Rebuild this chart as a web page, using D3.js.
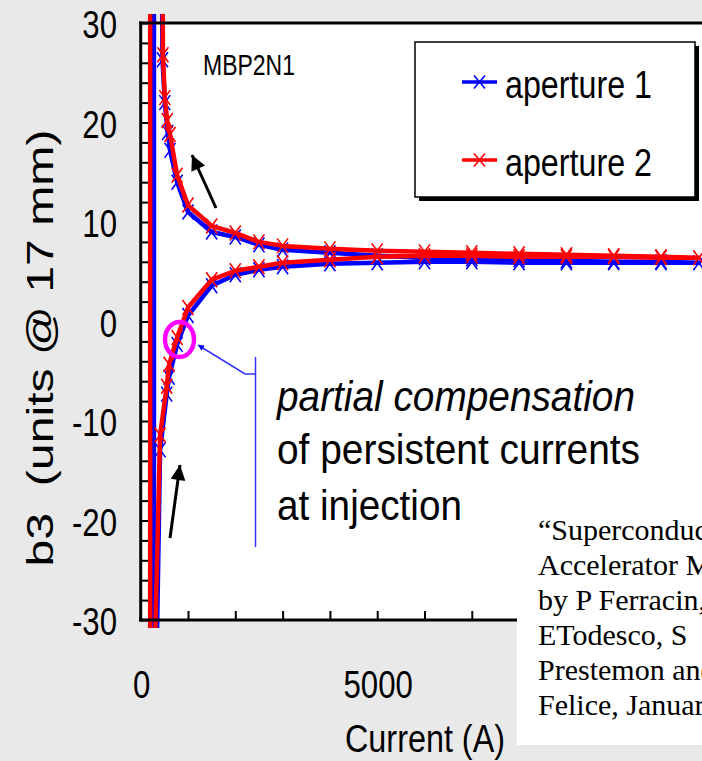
<!DOCTYPE html>
<html>
<head>
<meta charset="utf-8">
<script src="https://cdn.jsdelivr.net/npm/d3@7"></script>
<style>
  html, body { margin: 0; padding: 0; background: #e9e9e9; }
  svg { display: block; }
  text { font-family: "Liberation Sans", Arial, sans-serif; fill: #000; }
</style>
</head>
<body>
<svg id="chart" width="702" height="761"></svg>
<script>
// b3 harmonic vs. current, MBP2N1, both apertures.
// Each series is one ordered measurement cycle: [current (A), b3 (units @ 17 mm)].
const aperture1 = [
  [280, 60], [280, -60], [340, -33], [410, -12.9], [550, -7.3], [600, -5.6], [770, -2.3],
  [1000, 0.6], [1500, 3.6], [2000, 4.7], [2500, 5.2], [3000, 5.5], [4000, 5.8], [5000, 5.9],
  [6000, 6.0], [7000, 6.0], [8000, 5.9], [9000, 5.9], [10000, 5.9], [11000, 5.9], [11800, 5.9],
  [11000, 6.0], [10000, 6.0], [9000, 6.1], [8000, 6.2], [7000, 6.3], [6000, 6.4], [5000, 6.6],
  [4000, 6.9], [3000, 7.2], [2500, 7.7], [2000, 8.5], [1500, 9.0], [1000, 11.0], [770, 14.0],
  [620, 17.2], [570, 19.0], [510, 22.0], [460, 26.3], [450, 34]
];
const aperture2 = [
  [200, 60], [200, -60], [300, -33], [410, -11.4], [550, -6.5], [600, -4.3], [770, -1.6],
  [1000, 1.4], [1500, 4.2], [2000, 5.1], [2500, 5.5], [3000, 5.9], [4000, 6.2], [5000, 6.5],
  [6000, 6.6], [7000, 6.6], [8000, 6.5], [9000, 6.5], [10000, 6.5], [11000, 6.4], [11800, 6.4],
  [11000, 6.5], [10000, 6.6], [9000, 6.7], [8000, 6.8], [7000, 6.9], [6000, 7.0], [5000, 7.1],
  [4000, 7.3], [3000, 7.6], [2500, 8.0], [2000, 8.9], [1500, 9.6], [1000, 11.7], [770, 14.7],
  [620, 18.8], [560, 20.2], [510, 22.5], [470, 26.8], [465, 34]
];
const seriesNames = ["aperture 1", "aperture 2"];
const seriesColors = ["#0000ff", "#ff0000"];
const yLabelTicks = [-30, -20, -10, 0, 10, 20, 30];
const xLabelTicks = [0, 5000];
const magnetName = "MBP2N1";
const noteLines = ["partial compensation", "of persistent currents", "at injection"];
const citationLines = [
  "\u201CSuperconducting",
  "Accelerator Magnets\u201D",
  "by P Ferracin,",
  "ETodesco, S",
  "Prestemon and H",
  "Felice, January 2012"
];

const svg = d3.select("#chart");

const x = d3.scaleLinear().domain([0, 12000]).range([140.7, 708.3]);
const y = d3.scaleLinear().domain([-30, 30]).range([620, 23]);

// squeeze a text element to a given width
function fit(sel, w) {
  sel.attr("textLength", w).attr("lengthAdjust", "spacingAndGlyphs");
}

// plot area
svg.append("rect")
  .attr("x", x(0)).attr("y", y(30))
  .attr("width", 702 - x(0)).attr("height", y(-30) - y(30))
  .attr("fill", "#fff");

// clip for data (lines run slightly past the frame)
svg.append("clipPath").attr("id", "clip")
  .append("rect").attr("x", x(0) + 1).attr("y", 14).attr("width", 600).attr("height", 614);

// inward frame ticks
const gy = svg.append("g").attr("transform", `translate(${x(0)},0)`)
  .call(d3.axisRight(y).tickValues(d3.range(-30, 31, 2)).tickSize(8).tickFormat(""));
gy.select(".domain").remove();
gy.selectAll("line").attr("stroke", "#000").attr("stroke-width", 2);

const gx = svg.append("g").attr("transform", `translate(0,${y(-30)})`)
  .call(d3.axisTop(x).tickValues(d3.range(1000, 12001, 1000)).tickSize(9).tickFormat(""));
gx.select(".domain").remove();
gx.selectAll("line").attr("stroke", "#000").attr("stroke-width", 2);

// series: thick line with x markers
const line = d3.line().x(d => x(d[0])).y(d => y(d[1]));
const dataG = svg.append("g").attr("clip-path", "url(#clip)");
[aperture1, aperture2].forEach((data, i) => {
  dataG.append("path").datum(data)
    .attr("d", line).attr("fill", "none")
    .attr("stroke", seriesColors[i]).attr("stroke-width", 4.5)
    .attr("stroke-linejoin", "round");
  dataG.append("g").selectAll("path").data(data).join("path")
    .attr("d", d => {
      const cx = x(d[0]), cy = y(d[1]), a = 5.5, b = 7.5;
      return `M${cx - a},${cy - b}L${cx + a},${cy + b}M${cx - a},${cy + b}L${cx + a},${cy - b}`;
    })
    .attr("stroke", seriesColors[i]).attr("stroke-width", 1.6).attr("fill", "none");
});

// frame lines
svg.append("line").attr("x1", x(0) - 1.5).attr("x2", 702).attr("y1", y(30)).attr("y2", y(30))
  .attr("stroke", "#000").attr("stroke-width", 3);
svg.append("line").attr("x1", x(0)).attr("x2", x(0)).attr("y1", y(30) - 1.5).attr("y2", y(-30) + 1.5)
  .attr("stroke", "#000").attr("stroke-width", 3);
svg.append("line").attr("x1", x(0) - 1.5).attr("x2", 702).attr("y1", y(-30)).attr("y2", y(-30))
  .attr("stroke", "#000").attr("stroke-width", 3);

// y tick labels
svg.append("g").selectAll("text").data(yLabelTicks).join("text")
  .attr("x", 117).attr("y", d => y(d) + 15)
  .attr("text-anchor", "end").attr("font-size", 39)
  .text(d => d)
  .each(function () { fit(d3.select(this), this.getComputedTextLength() * 0.8); });

// x tick labels
svg.append("g").selectAll("text").data(xLabelTicks).join("text")
  .attr("x", d => x(d) + 1).attr("y", 698)
  .attr("text-anchor", "middle").attr("font-size", 39)
  .text(d => d)
  .each(function () { fit(d3.select(this), this.getComputedTextLength() * 0.8); });

// axis titles
const yt = svg.append("text")
  .attr("transform", "translate(53,348) rotate(-90)")
  .attr("text-anchor", "middle").attr("font-size", 36)
  .attr("xml:space", "preserve")
  .text("b3  (units @ 17 mm)");
fit(yt, 437);

const xt = svg.append("text")
  .attr("x", 425).attr("y", 752).attr("text-anchor", "middle").attr("font-size", 38)
  .text("Current (A)");
fit(xt, 160);

// magnet name
fit(svg.append("text").attr("x", 203).attr("y", 75).attr("font-size", 29).text(magnetName), 92);

// legend with drop shadow
svg.append("rect").attr("x", 419).attr("y", 46).attr("width", 280).attr("height", 155).attr("fill", "#000");
svg.append("rect").attr("x", 415).attr("y", 42).attr("width", 280).attr("height", 155)
  .attr("fill", "#fff").attr("stroke", "#000").attr("stroke-width", 1.5);
seriesNames.forEach((name, i) => {
  const ly = 82 + i * 78;
  svg.append("line").attr("x1", 462).attr("x2", 497).attr("y1", ly).attr("y2", ly)
    .attr("stroke", seriesColors[i]).attr("stroke-width", 3.5);
  svg.append("path")
    .attr("d", `M474,${ly - 6.5}L485,${ly + 6.5}M474,${ly + 6.5}L485,${ly - 6.5}`)
    .attr("stroke", seriesColors[i]).attr("stroke-width", 1.6);
  fit(svg.append("text").attr("x", 505).attr("y", ly + 16).attr("font-size", 38).text(name), 147);
});

// arrows showing ramp direction
const defs = svg.append("defs");
defs.append("marker").attr("id", "headBlack").attr("viewBox", "0 0 10 10")
  .attr("refX", 10).attr("refY", 5).attr("markerWidth", 8).attr("markerHeight", 5)
  .attr("orient", "auto").attr("markerUnits", "strokeWidth")
  .append("path").attr("d", "M0,0L10,5L0,10Z").attr("fill", "#000");
defs.append("marker").attr("id", "headBlue").attr("viewBox", "0 0 10 10")
  .attr("refX", 10).attr("refY", 5).attr("markerWidth", 8).attr("markerHeight", 4)
  .attr("orient", "auto").attr("markerUnits", "strokeWidth")
  .append("path").attr("d", "M0,0L10,5L0,10Z").attr("fill", "#0000ff");

svg.append("line").attr("x1", 216).attr("y1", 208).attr("x2", 192).attr("y2", 155)
  .attr("stroke", "#000").attr("stroke-width", 3).attr("marker-end", "url(#headBlack)");
svg.append("line").attr("x1", 170).attr("y1", 538).attr("x2", 180).attr("y2", 465)
  .attr("stroke", "#000").attr("stroke-width", 3).attr("marker-end", "url(#headBlack)");

// callout
svg.append("ellipse").attr("cx", 179.5).attr("cy", 339.5).attr("rx", 14.5).attr("ry", 17.5)
  .attr("fill", "none").attr("stroke", "#ff00ff").attr("stroke-width", 4.5);
svg.append("polyline").attr("points", "255.5,374 245,374 198,345")
  .attr("fill", "none").attr("stroke", "#3333ff").attr("stroke-width", 1.5)
  .attr("marker-end", "url(#headBlue)");
svg.append("line").attr("x1", 255.5).attr("x2", 255.5).attr("y1", 357).attr("y2", 547)
  .attr("stroke", "#3333ff").attr("stroke-width", 1.5);

const noteWidths = [358, 363, 185];
const noteBase = [411, 464, 520];
noteLines.forEach((t, i) => {
  const el = svg.append("text").attr("x", 277).attr("y", noteBase[i]).attr("font-size", 42)
    .attr("font-style", i === 0 ? "italic" : "normal").text(t);
  fit(el, noteWidths[i]);
});

// citation
svg.append("rect").attr("x", 517).attr("y", 500).attr("width", 200).attr("height", 245).attr("fill", "#fff");
citationLines.forEach((t, i) => {
  svg.append("text").attr("x", 538).attr("y", 540 + i * 35)
    .style("font-family", "'Liberation Serif', 'Times New Roman', serif")
    .attr("font-size", 30).text(t);
});
</script>
</body>
</html>
